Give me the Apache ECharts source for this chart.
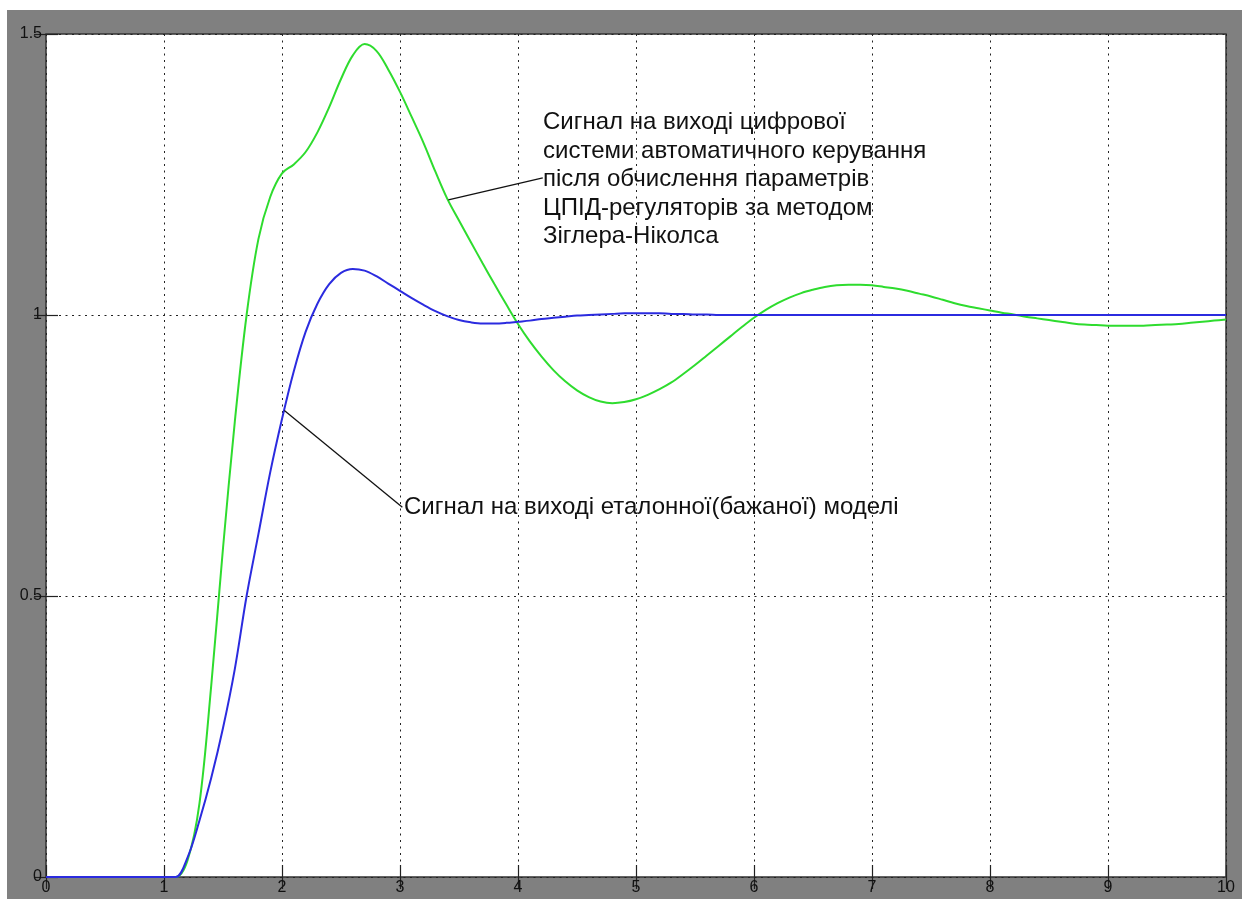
<!DOCTYPE html>
<html lang="uk">
<head>
	<meta charset="UTF-8">
	<title>Перехідні процеси</title>
	<script src="https://cdn.jsdelivr.net/npm/echarts@6/dist/echarts.min.js"></script>
	<style>
		html, body { margin: 0; padding: 0; background: #fff; }
		#chart { width: 1242px; height: 899px; }
	</style>
</head>
<body>
	<div id="chart"></div>

	<script type="text/javascript">
	// час, с (крок 0.1)
	var tSec = [0, 0.1, 0.2, 0.3, 0.4, 0.5, 0.6, 0.7, 0.8, 0.9,
		1.0, 1.1, 1.2, 1.3, 1.4, 1.5, 1.6, 1.7, 1.8, 1.9,
		2.0, 2.1, 2.2, 2.3, 2.4, 2.5, 2.6, 2.7, 2.8, 2.9,
		3.0, 3.1, 3.2, 3.3, 3.4, 3.5, 3.6, 3.7, 3.8, 3.9,
		4.0, 4.1, 4.2, 4.3, 4.4, 4.5, 4.6, 4.7, 4.8, 4.9,
		5.0, 5.1, 5.2, 5.3, 5.4, 5.5, 5.6, 5.7, 5.8, 5.9,
		6.0, 6.1, 6.2, 6.3, 6.4, 6.5, 6.6, 6.7, 6.8, 6.9,
		7.0, 7.1, 7.2, 7.3, 7.4, 7.5, 7.6, 7.7, 7.8, 7.9,
		8.0, 8.1, 8.2, 8.3, 8.4, 8.5, 8.6, 8.7, 8.8, 8.9,
		9.0, 9.1, 9.2, 9.3, 9.4, 9.5, 9.6, 9.7, 9.8, 9.9, 10];

	// вихід цифрової САК (Зіглер-Ніколс)
	var yGreen = [0, 0, 0, 0, 0, 0, 0, 0, 0, 0,
		0, 0, 0.03, 0.13, 0.34, 0.585, 0.81, 1.0, 1.135, 1.21,
		1.252, 1.268, 1.29, 1.325, 1.37, 1.42, 1.462, 1.482, 1.47, 1.437,
		1.397, 1.352, 1.306, 1.255, 1.207, 1.168, 1.13, 1.092, 1.055, 1.019,
		0.984, 0.953, 0.926, 0.902, 0.882, 0.866, 0.854, 0.846, 0.843, 0.845,
		0.85, 0.858, 0.868, 0.88, 0.895, 0.911, 0.928, 0.945, 0.962, 0.979,
		0.995, 1.009, 1.021, 1.031, 1.039, 1.045, 1.05, 1.053, 1.054, 1.054,
		1.053, 1.05, 1.047, 1.043, 1.038, 1.033, 1.027, 1.021, 1.016, 1.012,
		1.008, 1.004, 1.001, 0.997, 0.994, 0.991, 0.988, 0.985, 0.983, 0.982,
		0.981, 0.981, 0.981, 0.981, 0.982, 0.983, 0.984, 0.986, 0.988, 0.99, 0.992];

	// вихід еталонної моделі
	var yBlue = [0, 0, 0, 0, 0, 0, 0, 0, 0, 0,
		0, 0, 0.035, 0.1, 0.176, 0.265, 0.37, 0.5, 0.61, 0.72,
		0.815, 0.9, 0.97, 1.02, 1.055, 1.075, 1.082, 1.079, 1.069, 1.056,
		1.043, 1.03, 1.018, 1.007, 0.998, 0.991, 0.987, 0.985, 0.985, 0.986,
		0.988, 0.99, 0.993, 0.995, 0.997, 0.999, 1.0, 1.001, 1.002, 1.003,
		1.003, 1.003, 1.003, 1.002, 1.002, 1.001, 1.001, 1.0, 1.0, 1.0,
		1.0, 1.0, 1.0, 1.0, 1.0, 1.0, 1.0, 1.0, 1.0, 1.0,
		1.0, 1.0, 1.0, 1.0, 1.0, 1.0, 1.0, 1.0, 1.0, 1.0,
		1.0, 1.0, 1.0, 1.0, 1.0, 1.0, 1.0, 1.0, 1.0, 1.0,
		1.0, 1.0, 1.0, 1.0, 1.0, 1.0, 1.0, 1.0, 1.0, 1.0, 1.0];

	// виноски (в координатах графіка)
	var greenNote = [[3.41, 1.205], [4.21, 1.244]];
	var blueNote = [[2.02, 0.83], [3.02, 0.658]];

	var greenText = ['Сигнал на виході цифрової', 'системи автоматичного керування', 'після обчислення параметрів',
		'ЦПІД-регуляторів за методом', 'Зіглера-Ніколса'];
	var blueText = 'Сигнал на виході еталонної(бажаної) моделі';

	function pairs(xs, ys) {
		var out = [];
		for (var i = 0; i < xs.length; i++) out.push([xs[i], ys[i]]);
		return out;
	}
	function ticks() {
		return { show: true, inside: true, length: 12, lineStyle: { color: '#222', width: 1.2 } };
	}
	function dots() {
		return { show: true, lineStyle: { color: '#222', type: [2, 4.5], width: 1 } };
	}

	var chart = echarts.init(document.getElementById('chart'));
	var font = 'Liberation Sans, Arial, sans-serif';

	var option = {
		backgroundColor: '#fff',
		animation: false,
		grid: {
			left: 46, right: 16, top: 34, bottom: 22,
			show: true, backgroundColor: '#fff', borderColor: '#333', borderWidth: 1.5
		},
		graphic: [
			{ type: 'rect', z: -10, silent: true, shape: { x: 7, y: 10, width: 1235, height: 889 }, style: { fill: '#808080' } },
			{
				type: 'text', left: 543, top: 108, z: 100,
				style: { text: greenText.join('\n'), font: '24px ' + font, fill: '#111', lineHeight: 28.6 }
			},
			{
				type: 'text', left: 404, top: 493, z: 100,
				style: { text: blueText, font: '24px ' + font, fill: '#111', lineHeight: 28 }
			}
		],
		xAxis: [
			{
				type: 'value', min: 0, max: 10, interval: 1, position: 'bottom',
				axisLine: { show: false },
				axisTick: ticks(),
				axisLabel: { margin: 3, color: '#111', fontSize: 16, fontFamily: font },
				splitLine: dots()
			},
			{
				type: 'value', min: 0, max: 10, interval: 1, position: 'top',
				axisLine: { show: false }, axisTick: ticks(),
				axisLabel: { show: false }, splitLine: { show: false }
			}
		],
		yAxis: [
			{
				type: 'value', min: 0, max: 1.5, interval: 0.5, position: 'left',
				axisLine: { show: false },
				axisTick: ticks(),
				axisLabel: { margin: 4, color: '#111', fontSize: 16, fontFamily: font },
				splitLine: dots()
			},
			{
				type: 'value', min: 0, max: 1.5, interval: 0.5, position: 'right',
				axisLine: { show: false }, axisTick: ticks(),
				axisLabel: { show: false }, splitLine: { show: false }
			}
		],
		series: [
			{
				name: 'ЦСАК', type: 'line', data: pairs(tSec, yGreen),
				showSymbol: false, smooth: 0.35, z: 5,
				lineStyle: { color: '#2edc2e', width: 2 }
			},
			{
				name: 'Еталон', type: 'line', data: pairs(tSec, yBlue),
				showSymbol: false, smooth: 0.35, z: 6,
				lineStyle: { color: '#2b2bdf', width: 2 }
			},
			{
				type: 'line', data: greenNote, showSymbol: false, z: 7,
				lineStyle: { color: '#111', width: 1.3 }
			},
			{
				type: 'line', data: blueNote, showSymbol: false, z: 7,
				lineStyle: { color: '#111', width: 1.3 }
			}
		]
	};
	chart.setOption(option);
	</script>
</body>
</html>
